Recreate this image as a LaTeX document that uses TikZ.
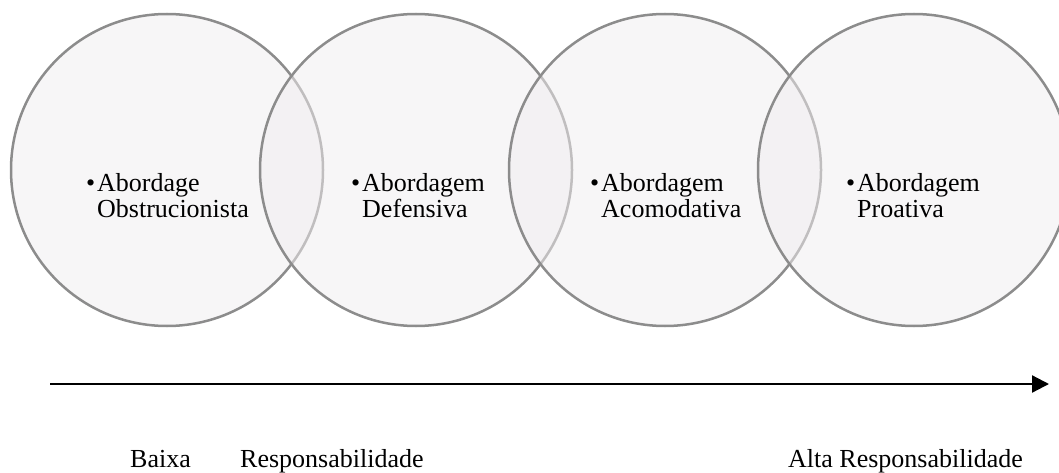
\documentclass[tikz,border=0pt]{standalone}
\usepackage{fontspec}
\setmainfont{Liberation Serif}
\usetikzlibrary{
    arrows.meta,
    positioning,
}
\definecolor{ringgray}{RGB}{140,140,140}
\definecolor{ringfill}{RGB}{240,237,239}

\begin{document}
\begin{tikzpicture}[
        x=1pt, y=-1pt,
        stage/.style={circle, draw=ringgray, line width=2.5pt, fill=ringfill,
            fill opacity=0.52, minimum size=312pt, inner sep=0pt},
        item/.style={anchor=base west, align=left, inner sep=0pt,
            font=\fontsize{26}{25}\selectfont},
        caption/.style={anchor=base west, inner sep=0pt,
            font=\fontsize{26}{26}\selectfont},
        axis/.style={-{Triangle[length=17pt, width=17pt]}, line width=2.2pt},
    ]
        \useasboundingbox (0,0) rectangle (1059,473);

        % Circles
        \node[stage] (obstr) at (167, 170) {};
        \node[stage] (defen) at (416, 170) {};
        \node[stage] (acomo) at (665, 170) {};
        \node[stage] (proat) at (914, 170) {};

        % Texts
        \node[item] (tobstr) at (97, 217) {\llap{\textbullet\hspace{2pt}}Abordage\\Obstrucionista};
        \node[item] (tdefen) at (362, 217) {\llap{\textbullet\hspace{2pt}}Abordagem\\Defensiva};
        \node[item] (tacomo) at (601, 217) {\llap{\textbullet\hspace{2pt}}Abordagem\\Acomodativa};
        \node[item] (tproat) at (857, 217) {\llap{\textbullet\hspace{2pt}}Abordagem\\Proativa};

        % Scale
        \coordinate (start) at (50, 384);
        \coordinate (end) at (1049, 384);
        \draw[axis] (start) -- (end);

        \node[caption] (low) at (130, 467) {Baixa};
        \node[caption] (resp) at (240, 467) {Responsabilidade};
        \node[caption] (high) at (788, 467) {Alta Responsabilidade};
    \end{tikzpicture}
\end{document}
